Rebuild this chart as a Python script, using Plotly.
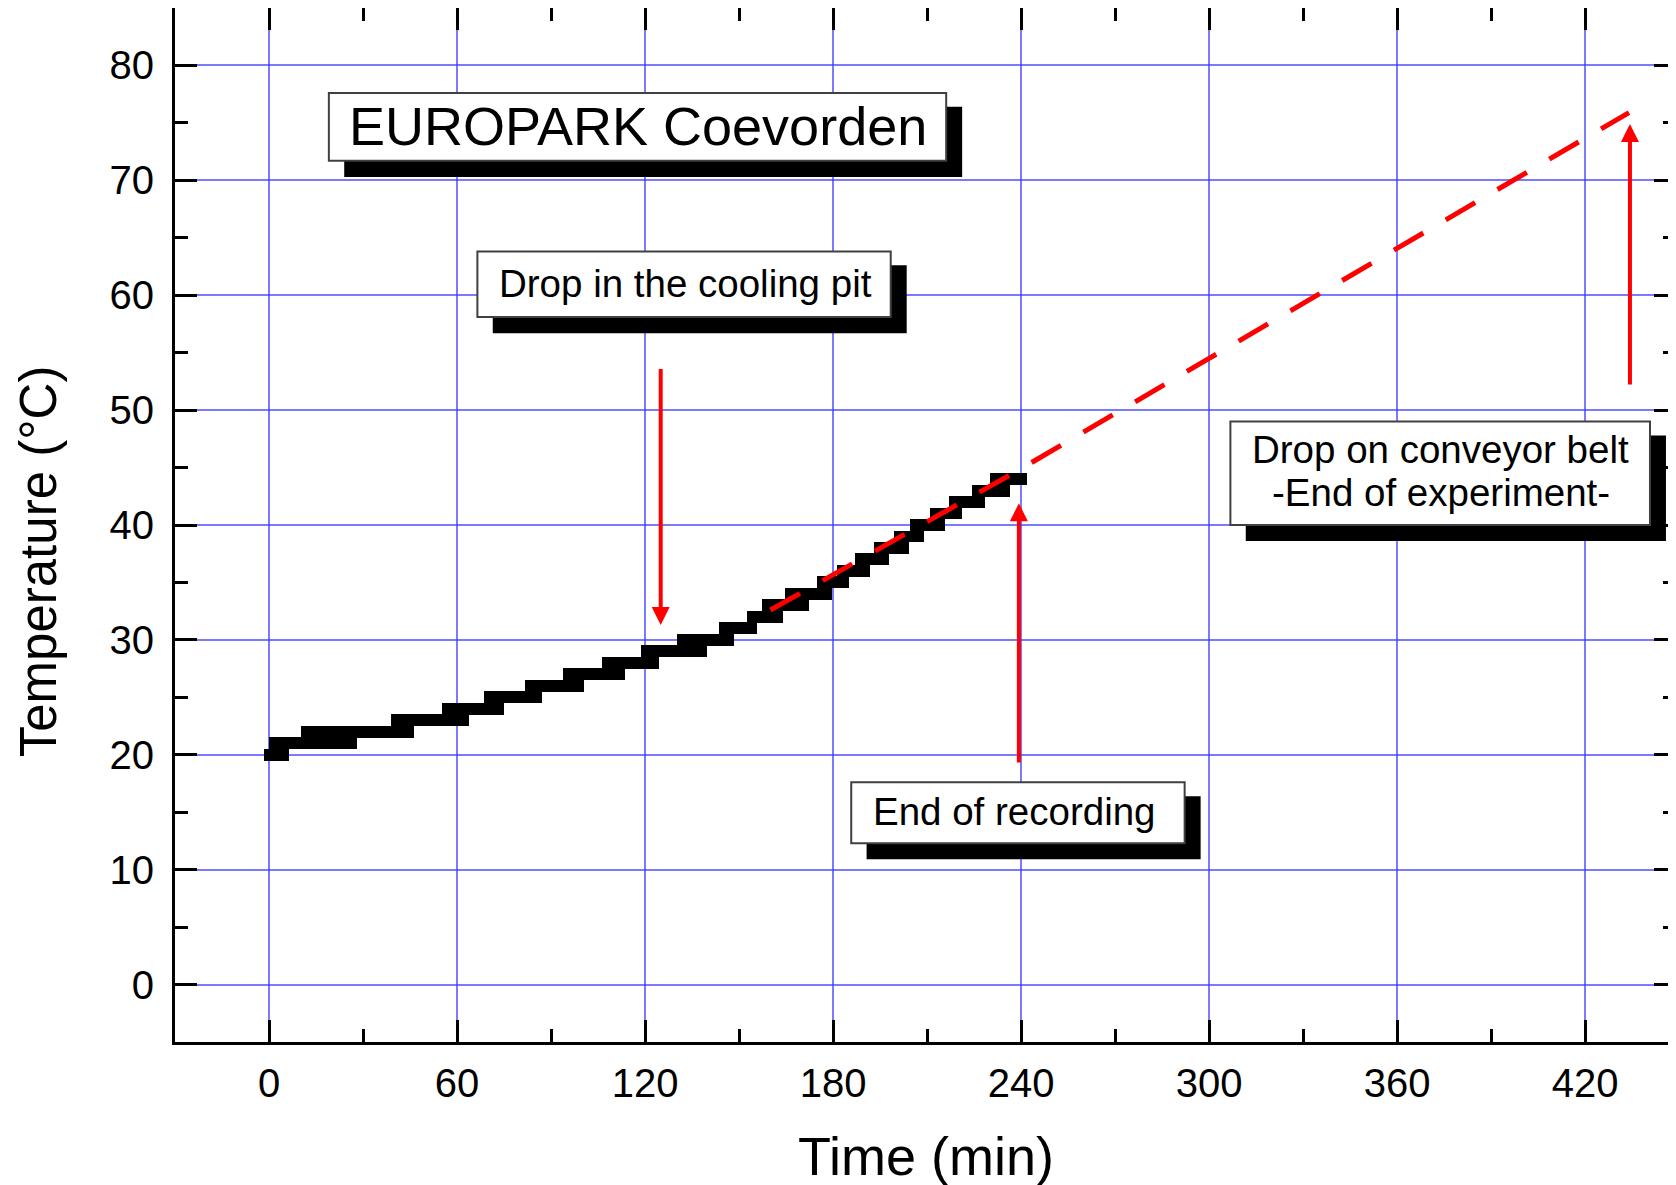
import plotly.graph_objects as go

# ---- data ----
step_temp = [20, 21, 22, 23, 24, 25, 26, 27, 28, 29, 30, 31, 32, 33, 34, 35, 36, 37, 38, 39, 40, 41, 42, 43, 44]
step_start = [-1.6, 0, 10.1, 38.8, 55.3, 68.6, 81.6, 93.9, 106.3, 118.6, 130.3, 143.5, 152.6,
              157.4, 164.8, 174.9, 181.3, 187.1, 193.0, 199.3, 204.7, 211.0, 216.9, 224.3, 230.2]
step_end = [6.4, 28.2, 46.2, 63.8, 75.0, 87.2, 100.5, 113.5, 124.4, 139.8, 148.3, 155.8, 164.0,
            172.2, 179.7, 185.0, 191.9, 197.7, 204.1, 208.9, 215.8, 221.2, 228.6, 236.6, 241.9]

fit_time = [160, 200, 240, 300, 360, 434]
fit_temp = [32.6, 38.7, 44.9, 54.5, 64.1, 75.9]

arrow_time = [125, 239.3, 434.3]
arrow_from = [53.7, 19.2, 52.1]
arrow_to = [31.3, 41.9, 74.9]

x_ticks = [0, 60, 120, 180, 240, 300, 360, 420]
y_ticks = [0, 10, 20, 30, 40, 50, 60, 70, 80]

FONT = "Liberation Sans, Arial, Helvetica, sans-serif"

fig = go.Figure()

# thick recorded staircase
fig.add_trace(go.Bar(
    orientation="h",
    y=step_temp,
    base=step_start,
    x=[e - s for s, e in zip(step_start, step_end)],
    width=1.04,
    marker=dict(color="black", line=dict(width=0)),
    showlegend=False,
    hoverinfo="skip",
))

# red dashed extrapolation
fig.add_trace(go.Scatter(
    x=fit_time, y=fit_temp, mode="lines",
    line=dict(color="#ff0000", width=5, dash="34px,26px"),
    showlegend=False, hoverinfo="skip",
))

# arrows
for t, a, b in zip(arrow_time, arrow_from, arrow_to):
    fig.add_annotation(
        x=t, y=b, ax=t, ay=a, xref="x", yref="y", axref="x", ayref="y",
        text="", showarrow=True, arrowhead=2, arrowsize=0.9, arrowwidth=4,
        arrowcolor="#ff0000", standoff=0, startstandoff=0,
    )

# labelled boxes with drop shadow: (box x0,x1,y0,y1)
boxes = [
    (19.1, 216.1, 71.7, 77.6),
    (66.5, 198.4, 58.1, 63.8),
    (185.8, 292.2, 12.3, 17.6),
    (306.8, 440.7, 40.0, 49.0),
]
for x0, x1, y0, y1 in boxes:
    fig.add_shape(type="rect", xref="x", yref="y",
                  x0=x0 + 4.9, x1=x1 + 5.1, y0=y0 - 1.4, y1=y1 - 1.2,
                  fillcolor="black", line=dict(width=0), layer="above")
    fig.add_shape(type="rect", xref="x", yref="y",
                  x0=x0, x1=x1, y0=y0, y1=y1,
                  fillcolor="white", line=dict(color="#404040", width=2), layer="above")

labels = [
    ("EUROPARK Coevorden", 117.9, 74.7, 54),
    ("Drop in the cooling pit", 132.8, 61.0, 38.5),
    ("End of recording", 237.8, 15.1, 38.5),
    ("Drop on conveyor belt", 374.0, 46.6, 38.5),
    ("-End of experiment-", 374.0, 42.8, 38.5),
]
for txt, x, y, size in labels:
    fig.add_annotation(x=x, y=y, xref="x", yref="y", text=txt, showarrow=False,
                       xanchor="center", yanchor="middle",
                       font=dict(family=FONT, size=size, color="black"))

# axis titles
fig.add_annotation(x=0.5, y=-0.110, xref="paper", yref="paper", text="Time (min)",
                   showarrow=False, xanchor="center", yanchor="middle",
                   font=dict(family=FONT, size=54, color="black"))
fig.add_annotation(x=-0.0912, y=0.465, xref="paper", yref="paper", text="Temperature (\u00b0C)",
                   textangle=-90, showarrow=False, xanchor="center", yanchor="middle",
                   font=dict(family=FONT, size=51, color="black"))

axis_common = dict(
    showline=True, linecolor="black", linewidth=3, mirror="ticks",
    ticks="inside", ticklen=22, tickwidth=3, tickcolor="black",
    showgrid=True, gridcolor="rgba(50,50,255,0.65)", gridwidth=1.5,
    zeroline=False, automargin=False,
    tickfont=dict(family=FONT, size=40, color="black"),
)

fig.update_xaxes(
    range=[-30, 449], tickmode="array", tickvals=x_ticks,
    ticktext=[str(v) for v in x_ticks], ticklabelstandoff=4,
    minor=dict(dtick=30, tick0=0, ticks="inside", ticklen=13, tickwidth=3,
               tickcolor="black", showgrid=False),
    **axis_common,
)
fig.update_yaxes(
    range=[-5, 85], tickmode="array", tickvals=y_ticks,
    ticktext=[str(v) for v in y_ticks], ticklabelstandoff=10,
    minor=dict(dtick=5, tick0=0, ticks="inside", ticklen=13, tickwidth=3,
               tickcolor="black", showgrid=False),
    **axis_common,
)

# page body adds an 8px offset, so the figure is 8px smaller than the window
fig.update_layout(
    width=1668, height=1177,
    margin=dict(l=167, r=0, t=0, b=143, autoexpand=False),
    paper_bgcolor="white", plot_bgcolor="white",
    bargap=0, showlegend=False,
    font=dict(family=FONT, color="black"),
)

fig.write_html("out.html")
